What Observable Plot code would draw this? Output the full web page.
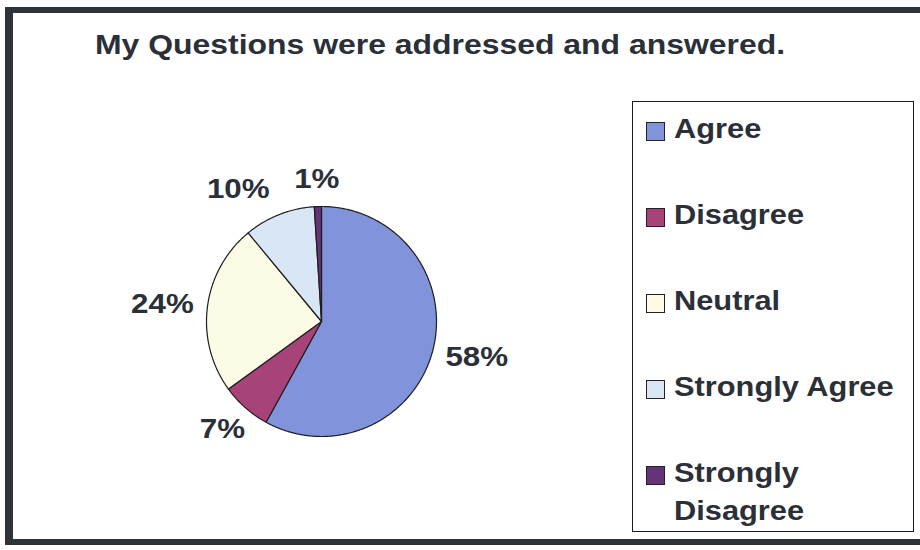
<!DOCTYPE html>
<html>
<head>
<meta charset="utf-8">
<script src="https://cdn.jsdelivr.net/npm/d3@7"></script>
<script src="https://cdn.jsdelivr.net/npm/@observablehq/plot@0.6"></script>
<style>
  html, body { margin: 0; padding: 0; background: #fff; }
  #wrap { position: relative; width: 920px; height: 550px; overflow: hidden; background: #fff;
          font-family: "Liberation Sans", Arial, sans-serif; color: #2b3038; }
  #wrap svg { position: absolute; left: 0; top: 0; }
  #frame { position: absolute; left: 5px; top: 7px; width: 930px; height: 538px;
           border-left: 8px solid #2e3437; border-top: 6px solid #2e3437; border-bottom: 6px solid #2e3437; box-sizing: border-box; }
  #title { position: absolute; left: 95px; top: 31px; font-size: 28px; line-height: 28px; font-weight: bold;
           white-space: nowrap; transform: scaleX(1.14); transform-origin: 0 0; }
  #legend { position: absolute; left: 632px; top: 101px; width: 282px; height: 431px;
            border: 1.5px solid #1a1a1a; box-sizing: border-box; }
  .sw { position: absolute; width: 19px; height: 19px; border: 1px solid #222; box-sizing: border-box; }
  .lt { position: absolute; width: 215px; font-size: 28px; line-height: 38px; font-weight: bold;
        transform: scaleX(1.1); transform-origin: 0 0; }
</style>
</head>
<body>
<div id="wrap"></div>
<script>
const categories = ["Agree", "Disagree", "Neutral", "Strongly Agree", "Strongly Disagree"];
const percents = [58, 7, 24, 10, 1];
const colors = ["#8193da", "#a8437a", "#fcfce6", "#d8e6f6", "#643378"];
const titleText = "My Questions were addressed and answered.";

const arcs = d3.pie().sort(null).value(d => d)(percents);

// polygon outline of each slice (angle clockwise from 12 o'clock)
const pts = [];
arcs.forEach((a, i) => {
  const key = categories[i];
  pts.push({key, x: 0, y: 0});
  const n = Math.max(2, Math.ceil((a.endAngle - a.startAngle) / (Math.PI / 360)));
  for (let k = 0; k <= n; k++) {
    const t = a.startAngle + (a.endAngle - a.startAngle) * k / n;
    pts.push({key, x: Math.sin(t), y: Math.cos(t)});
  }
  pts.push({key, x: 0, y: 0});
});

// label positions: point just outside the rim, pushed out by half the text box,
// then spread apart when two labels sit on the same row too close together
const unit = 115;           // pixels per data unit (radius)
const charW = 21;           // approx label glyph width, px
const halfH = 14;           // half label height, px
const minGap = 26;          // min horizontal gap between labels, px
const labels = arcs.map((a, i) => {
  const m = (a.startAngle + a.endAngle) / 2;
  const dx = Math.sin(m), dy = Math.cos(m);
  const txt = percents[i] + "%";
  const hw = txt.length * charW / 2;
  const r = 1.12 * unit;
  return {key: categories[i], text: txt, hw, px: dx * (r + hw), py: dy * (r + halfH)};
});
for (let i = 0; i < labels.length; i++) {
  for (let j = 0; j < labels.length; j++) {
    if (i === j) continue;
    const a = labels[i], b = labels[j];
    if (Math.abs(a.py - b.py) < 2 * halfH && a.px < b.px && a.px < 0) {
      const gap = (b.px - b.hw) - (a.px + a.hw);
      if (gap < minGap) a.px -= (minGap - gap);
    }
  }
}
labels.forEach(l => { l.x = l.px / unit; l.y = l.py / unit; });

const chart = Plot.plot({
  width: 920,
  height: 550,
  margin: 0,
  x: {domain: [-1, 1], range: [206, 436], axis: null},
  y: {domain: [-1, 1], range: [436, 206], axis: null},
  color: {domain: categories, range: colors},
  style: {fontFamily: "Liberation Sans, Arial, sans-serif", background: "transparent", overflow: "visible"},
  marks: [
    Plot.line(pts, {x: "x", y: "y", z: "key", fill: "key", stroke: "#1e1e1e", strokeWidth: 1.2, strokeLinejoin: "round"}),
    Plot.text(labels, {x: "x", y: "y", text: "text", fontSize: 28, fontWeight: "bold", fill: "#2b3038", textAnchor: "middle"})
  ]
});

// widen label glyphs like the reference
chart.querySelectorAll("text").forEach(t => {
  const tr = t.getAttribute("transform");
  if (tr && tr.includes("translate")) t.setAttribute("transform", tr + " scale(1.12,1)");
});

const wrap = document.getElementById("wrap");
wrap.appendChild(chart);

const frame = document.createElement("div");
frame.id = "frame";
wrap.appendChild(frame);

const title = document.createElement("div");
title.id = "title";
title.textContent = titleText;
wrap.appendChild(title);

const legend = document.createElement("div");
legend.id = "legend";
wrap.appendChild(legend);
const color = chart.scale("color");
categories.forEach((c, i) => {
  const sw = document.createElement("div");
  sw.className = "sw";
  sw.style.left = (645 - 632) + "px";
  sw.style.top = (121 - 101 + 86 * i) + "px";
  sw.style.background = color.apply(c);
  legend.appendChild(sw);
  const lt = document.createElement("div");
  lt.className = "lt";
  lt.style.left = (673 - 632) + "px";
  lt.style.top = (138 + 86 * i - 28.7 - 101) + "px";
  lt.textContent = c;
  legend.appendChild(lt);
});
</script>
</body>
</html>
